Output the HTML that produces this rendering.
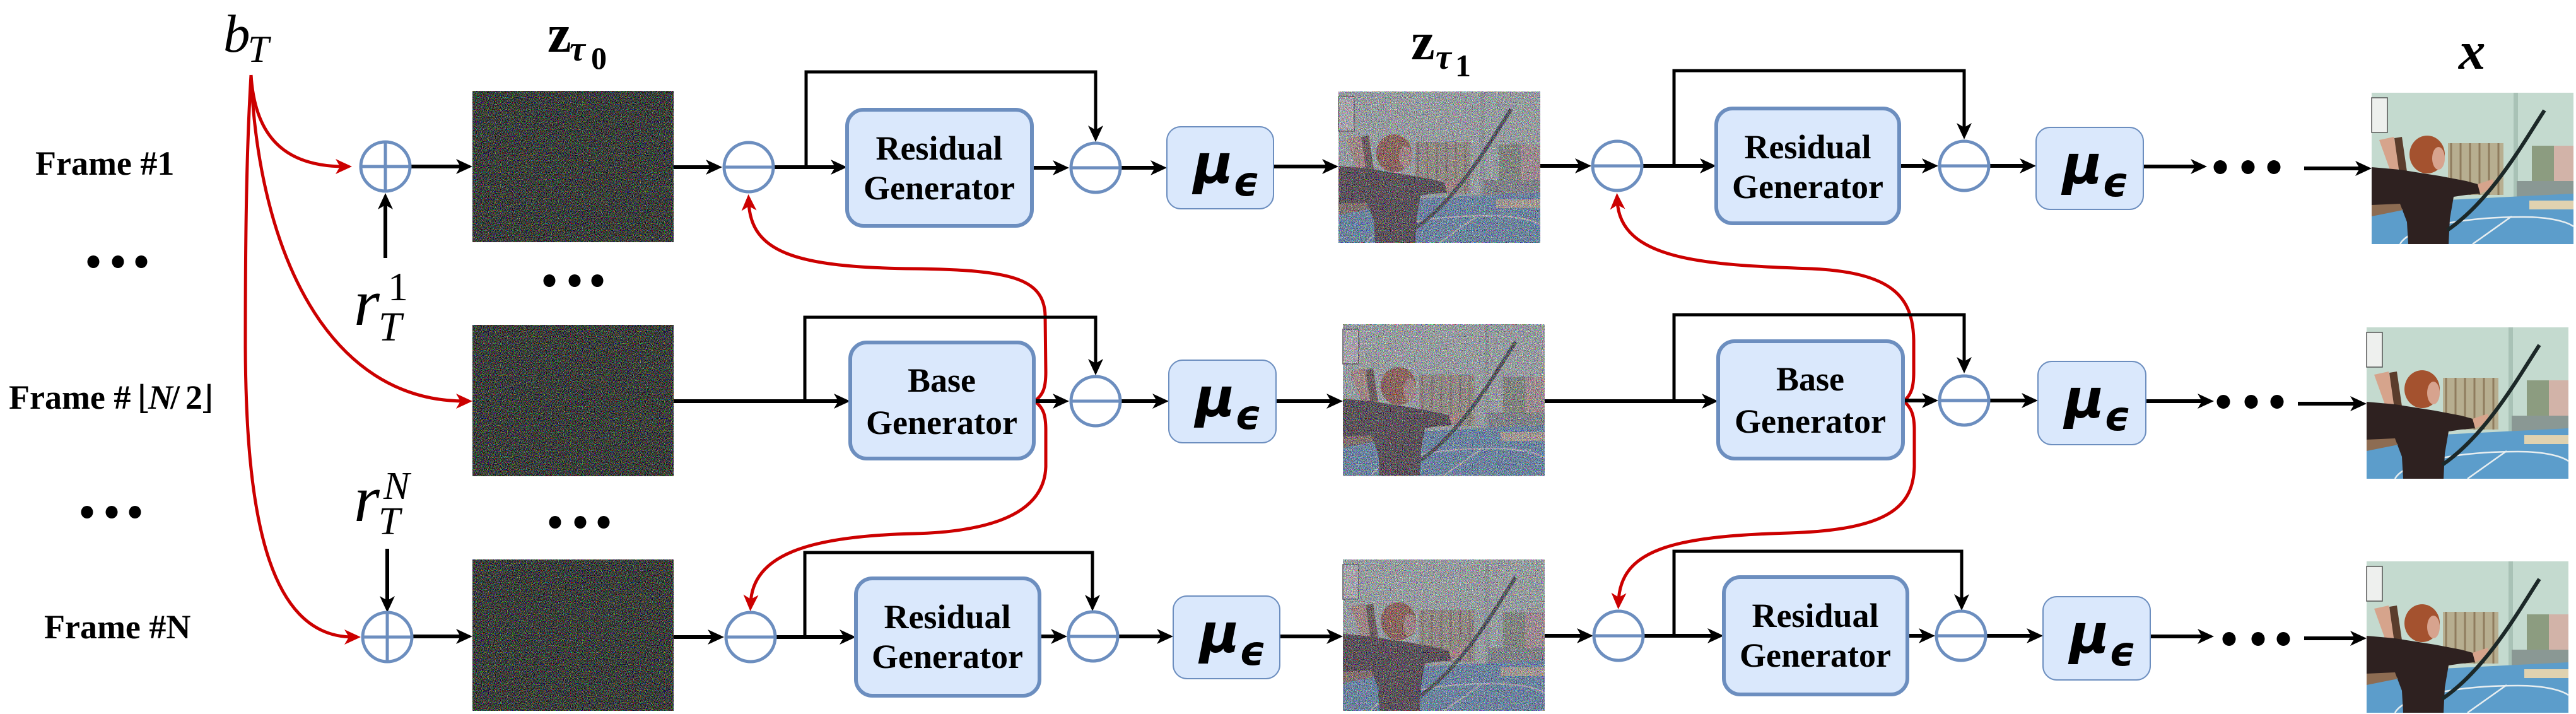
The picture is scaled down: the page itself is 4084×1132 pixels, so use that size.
<!DOCTYPE html>
<html>
<head>
<meta charset="utf-8">
<style>
html,body{margin:0;padding:0;background:#fff;}
svg{display:block;}
</style>
</head>
<body>
<svg width="4084" height="1132" viewBox="0 0 4084 1132" xmlns="http://www.w3.org/2000/svg">
<defs>
  <marker id="ah" markerUnits="userSpaceOnUse" markerWidth="26" markerHeight="24" refX="14" refY="12" orient="auto" viewBox="0 0 26 24">
    <path d="M0,0 L26,12 L0,24 L7,12 Z" fill="#000"/>
  </marker>
  <marker id="ahr" markerUnits="userSpaceOnUse" markerWidth="26" markerHeight="24" refX="14" refY="12" orient="auto" viewBox="0 0 26 24">
    <path d="M0,0 L26,12 L0,24 L7,12 Z" fill="#cc0000"/>
  </marker>
  <filter id="nA" x="0" y="0" width="1" height="1" filterUnits="objectBoundingBox" color-interpolation-filters="sRGB">
    <feTurbulence type="fractalNoise" baseFrequency="0.9" numOctaves="1" seed="5"/>
    <feColorMatrix type="matrix" values="7.5 0 0 0 -3.55  0 7.5 0 0 -3.5  0 0 7.5 0 -3.55  0 0 0 0 1"/>
    <feComponentTransfer>
      <feFuncR type="linear" slope="0.65" intercept="0"/>
      <feFuncG type="linear" slope="0.65" intercept="0"/>
      <feFuncB type="linear" slope="0.65" intercept="0"/>
    </feComponentTransfer>
  </filter>
  <filter id="nB" x="0" y="0" width="1" height="1" filterUnits="objectBoundingBox" color-interpolation-filters="sRGB">
    <feTurbulence type="fractalNoise" baseFrequency="0.9" numOctaves="1" seed="11"/>
    <feColorMatrix type="matrix" values="7.5 0 0 0 -3.3  0 7.5 0 0 -3.35  0 0 7.5 0 -3.25  0 0 0 0 1"/>
  </filter>
  <g id="scene">
    <rect width="320" height="240" fill="#c4dacf"/>
    <rect x="225" y="0" width="7" height="165" fill="#a9c2b6"/>
    <rect x="0" y="8" width="25" height="55" fill="#eef0ee" stroke="#555" stroke-width="1.5"/>
    <rect x="121" y="80" width="88" height="82" fill="#b7ae90"/>
    <path d="M126,80V162 M141,80V162 M156,80V162 M171,80V162 M186,80V162 M201,80V162" stroke="#8f7c5e" stroke-width="3"/>
    <rect x="254" y="84" width="36" height="66" fill="#8c9c80"/>
    <rect x="289" y="84" width="31" height="66" fill="#d2b3a8"/>
    <rect x="230" y="140" width="90" height="25" fill="#8a9894"/>
    <rect x="0" y="164" width="48" height="34" fill="#8d6c52"/>
    <path d="M0,196 L60,184 L120,170 L320,160 L320,240 L0,240Z" fill="#5c9dcb"/>
    <rect x="250" y="171" width="70" height="14" fill="#e0d2b0"/>
    <path d="M45,240 C60,212 150,197 240,197 C285,197 310,205 320,212" stroke="#e8eef0" stroke-width="2.5" fill="none"/>
    <path d="M222,196 L160,240" stroke="#e8eef0" stroke-width="2.5"/>
    <path d="M12,75 L35,70 L46,120 L30,125 Z" fill="#d6a48c"/>
    <path d="M36,72 L48,70 L56,125 L44,128Z" fill="#5b3d2c"/>
    <path d="M0,118 L45,122 L70,126 L108,132 L150,140 L172,146 L172,160 L150,162 L130,165 L124,200 L122,240 L58,240 L56,205 L45,176 L0,178Z" fill="#2e2120"/>
    <path d="M168,145 L192,137 L196,150 L172,160Z" fill="#d6a48c"/>
    <ellipse cx="88" cy="98" rx="28" ry="30" fill="#a4522f"/>
    <ellipse cx="106" cy="104" rx="10" ry="18" fill="#d7a38e"/>
    <path d="M274,28 C240,80 190,170 120,218" stroke="#1c2828" stroke-width="6" fill="none"/>
  </g>
</defs>

<!-- ============ IMAGES ============ -->
<rect x="749" y="144" width="319" height="240" fill="#444" filter="url(#nA)"/>
<rect x="749" y="515" width="319" height="240" fill="#444" filter="url(#nA)"/>
<rect x="749" y="887" width="319" height="240" fill="#444" filter="url(#nA)"/>

<use href="#scene" transform="translate(2122,145)"/>
<rect x="2122" y="145" width="320" height="240" fill="#777" filter="url(#nB)" opacity="0.62"/>
<use href="#scene" transform="translate(2129,514)"/>
<rect x="2129" y="514" width="320" height="241" fill="#777" filter="url(#nB)" opacity="0.62"/>
<use href="#scene" transform="translate(2129,887)"/>
<rect x="2129" y="887" width="320" height="240" fill="#777" filter="url(#nB)" opacity="0.62"/>

<use href="#scene" transform="translate(3760,147)"/>
<use href="#scene" transform="translate(3752,519)"/>
<use href="#scene" transform="translate(3752,890)"/>

<!-- ============ RED CURVES ============ -->
<g fill="none" stroke="#cc0000" stroke-width="5" marker-end="url(#ahr)">
  <path d="M398,119 C404,215 450,264 546,264"/>
  <path d="M398,119 C410,400 520,636 737,636"/>
  <path d="M398,119 C390,250 389,400 389,550 C390,800 420,1010 560,1010"/>
  <path d="M1640,636 C1655,626 1658,612 1658,590 L1657,500 C1655,440 1600,428 1450,426 C1260,424 1190,400 1187,320"/>
  <path d="M1640,636 C1655,646 1658,660 1658,682 L1658,740 C1656,800 1600,842 1450,846 C1280,850 1193,880 1190,957"/>
  <path d="M3018,636 C3031,626 3034,612 3034,590 L3034,540 C3033,470 3000,432 2872,426 C2700,420 2568,412 2564,318"/>
  <path d="M3018,636 C3031,646 3035,660 3035,682 L3035,740 C3033,800 3000,840 2837,845 C2650,850 2569,872 2566,954"/>
</g>

<!-- ============ BLACK ARROWS ============ -->
<g stroke="#000" stroke-width="6" fill="none" marker-end="url(#ah)">
  <line x1="611" y1="409" x2="611" y2="318"/>
  <line x1="650" y1="264" x2="737" y2="264"/>
  <line x1="1068" y1="265" x2="1133" y2="265"/>
  <line x1="1226" y1="265" x2="1331" y2="265"/>
  <line x1="1636" y1="266" x2="1683" y2="266"/>
  <line x1="1776" y1="266" x2="1838" y2="266"/>
  <line x1="2019" y1="264" x2="2110" y2="264"/>
  <line x1="2442" y1="263" x2="2511" y2="263"/>
  <line x1="2603" y1="263" x2="2709" y2="263"/>
  <line x1="3011" y1="263" x2="3061" y2="263"/>
  <line x1="3153" y1="263" x2="3216" y2="263"/>
  <line x1="3398" y1="264" x2="3487" y2="264"/>
  <line x1="3653" y1="267" x2="3748" y2="267"/>
  <line x1="1068" y1="636" x2="1336" y2="636"/>
  <line x1="1640" y1="636" x2="1683" y2="636"/>
  <line x1="1776" y1="636" x2="1841" y2="636"/>
  <line x1="2023" y1="636" x2="2117" y2="636"/>
  <line x1="2449" y1="636" x2="2712" y2="636"/>
  <line x1="3017" y1="635" x2="3061" y2="635"/>
  <line x1="3153" y1="635" x2="3219" y2="635"/>
  <line x1="3402" y1="636" x2="3498" y2="636"/>
  <line x1="3643" y1="640" x2="3740" y2="640"/>
  <line x1="614" y1="870" x2="614" y2="959"/>
  <line x1="653" y1="1009" x2="737" y2="1009"/>
  <line x1="1068" y1="1010" x2="1136" y2="1010"/>
  <line x1="1229" y1="1010" x2="1345" y2="1010"/>
  <line x1="1648" y1="1009" x2="1680" y2="1009"/>
  <line x1="1772" y1="1009" x2="1848" y2="1009"/>
  <line x1="2029" y1="1009" x2="2117" y2="1009"/>
  <line x1="2449" y1="1008" x2="2514" y2="1008"/>
  <line x1="2605" y1="1008" x2="2721" y2="1008"/>
  <line x1="3024" y1="1008" x2="3056" y2="1008"/>
  <line x1="3148" y1="1008" x2="3227" y2="1008"/>
  <line x1="3409" y1="1009" x2="3498" y2="1009"/>
  <line x1="3653" y1="1012" x2="3740" y2="1012"/>
</g>
<g stroke="#000" stroke-width="5" fill="none" marker-end="url(#ah)">
  <path d="M1278,265 V114 H1737 V213"/>
  <path d="M2654,263 V112 H3114 V209"/>
  <path d="M1276,636 V503 H1737 V583"/>
  <path d="M2654,636 V499 H3114 V580"/>
  <path d="M1276,1010 V876 H1732 V957"/>
  <path d="M2654,1008 V874 H3110 V956"/>
</g>

<!-- ============ CIRCLES ============ -->
<g fill="#fff" stroke="#6c8ebf" stroke-width="5">
  <circle cx="611" cy="264" r="39"/>
  <circle cx="614" cy="1010" r="39"/>
  <circle cx="1187" cy="265" r="39"/>
  <circle cx="1737" cy="266" r="39"/>
  <circle cx="2564" cy="263" r="39"/>
  <circle cx="3114" cy="263" r="39"/>
  <circle cx="1737" cy="636" r="39"/>
  <circle cx="3114" cy="635" r="39"/>
  <circle cx="1190" cy="1010" r="39"/>
  <circle cx="1733" cy="1009" r="39"/>
  <circle cx="2566" cy="1008" r="39"/>
  <circle cx="3109" cy="1008" r="39"/>
</g>
<g stroke="#6c8ebf" stroke-width="5" fill="none">
  <path d="M572,264 H650 M611,225 V303"/>
  <path d="M575,1010 H653 M614,971 V1049"/>
  <path d="M1148,265 H1226"/>
  <path d="M1698,266 H1776"/>
  <path d="M2525,263 H2603"/>
  <path d="M3075,263 H3153"/>
  <path d="M1698,636 H1776"/>
  <path d="M3075,635 H3153"/>
  <path d="M1151,1010 H1229"/>
  <path d="M1694,1009 H1772"/>
  <path d="M2527,1008 H2605"/>
  <path d="M3070,1008 H3148"/>
</g>

<!-- ============ GENERATOR BOXES ============ -->
<g fill="#dae8fc" stroke="#6c8ebf" stroke-width="6">
  <rect x="1343" y="174" width="293" height="184" rx="26"/>
  <rect x="2721" y="172" width="290" height="182" rx="26"/>
  <rect x="1348" y="543" width="291" height="184" rx="26"/>
  <rect x="2724" y="541" width="293" height="186" rx="26"/>
  <rect x="1357" y="917" width="291" height="186" rx="26"/>
  <rect x="2733" y="915" width="291" height="186" rx="26"/>
</g>
<g font-family="'Liberation Serif', serif" font-weight="bold" font-size="54" text-anchor="middle" fill="#000">
  <text x="1489" y="253">Residual</text><text x="1489" y="316">Generator</text>
  <text x="2866" y="251">Residual</text><text x="2866" y="314">Generator</text>
  <text x="1493" y="621">Base</text><text x="1493" y="688">Generator</text>
  <text x="2870" y="619">Base</text><text x="2870" y="686">Generator</text>
  <text x="1502" y="996">Residual</text><text x="1502" y="1059">Generator</text>
  <text x="2878" y="994">Residual</text><text x="2878" y="1057">Generator</text>
</g>

<!-- ============ MU BOXES ============ -->
<g fill="#dae8fc" stroke="#6c8ebf" stroke-width="2">
  <rect x="1850" y="201" width="169" height="130" rx="22"/>
  <rect x="3228" y="202" width="170" height="130" rx="22"/>
  <rect x="1853" y="571" width="170" height="131" rx="22"/>
  <rect x="3231" y="573" width="171" height="132" rx="22"/>
  <rect x="1860" y="945" width="169" height="131" rx="22"/>
  <rect x="3239" y="946" width="170" height="132" rx="22"/>
</g>
<g font-family="'DejaVu Sans', sans-serif" font-weight="bold" font-style="italic" fill="#000">
  <text x="1892" y="290" font-size="86">μ</text><text x="1955" y="310" font-size="64">ϵ</text>
  <text x="3270" y="291" font-size="86">μ</text><text x="3333" y="311" font-size="64">ϵ</text>
  <text x="1895" y="660" font-size="86">μ</text><text x="1958" y="680" font-size="64">ϵ</text>
  <text x="3273" y="662" font-size="86">μ</text><text x="3336" y="682" font-size="64">ϵ</text>
  <text x="1902" y="1034" font-size="86">μ</text><text x="1965" y="1054" font-size="64">ϵ</text>
  <text x="3281" y="1035" font-size="86">μ</text><text x="3344" y="1055" font-size="64">ϵ</text>
</g>

<!-- ============ DOTS ============ -->
<g fill="#000">
  <ellipse cx="148" cy="415" rx="9.5" ry="10"/><ellipse cx="187" cy="415" rx="9.5" ry="10"/><ellipse cx="224" cy="415" rx="9.5" ry="10"/>
  <ellipse cx="138" cy="812" rx="9.5" ry="10"/><ellipse cx="177" cy="812" rx="9.5" ry="10"/><ellipse cx="214" cy="812" rx="9.5" ry="10"/>
  <ellipse cx="871" cy="445" rx="9.5" ry="10"/><ellipse cx="911" cy="445" rx="9.5" ry="10"/><ellipse cx="947" cy="445" rx="9.5" ry="10"/>
  <ellipse cx="880" cy="828" rx="9.5" ry="10"/><ellipse cx="920" cy="828" rx="9.5" ry="10"/><ellipse cx="957" cy="828" rx="9.5" ry="10"/>
  <ellipse cx="3520" cy="265" rx="10.5" ry="11"/><ellipse cx="3564" cy="265" rx="10.5" ry="11"/><ellipse cx="3605" cy="265" rx="10.5" ry="11"/>
  <ellipse cx="3525" cy="637" rx="10.5" ry="11"/><ellipse cx="3569" cy="637" rx="10.5" ry="11"/><ellipse cx="3610" cy="637" rx="10.5" ry="11"/>
  <ellipse cx="3534" cy="1013" rx="10.5" ry="11"/><ellipse cx="3580" cy="1013" rx="10.5" ry="11"/><ellipse cx="3620" cy="1013" rx="10.5" ry="11"/>
</g>

<!-- ============ LABELS ============ -->
<g font-family="'Liberation Serif', serif" font-weight="bold" font-size="54" fill="#000">
  <text x="56" y="277">Frame #1</text>
  <text x="14" y="648">Frame #</text>
  <text x="218" y="648" font-family="'DejaVu Serif', serif" font-weight="normal" font-size="52">⌊</text>
  <text x="235" y="648" font-style="italic">N</text>
  <text x="270" y="648">/</text>
  <text x="294" y="648">2</text>
  <text x="318" y="648" font-family="'DejaVu Serif', serif" font-weight="normal" font-size="52">⌋</text>
  <text x="70" y="1012">Frame #N</text>
</g>

<g font-family="'Liberation Serif', serif" fill="#000">
  <text x="354" y="82" font-style="italic" font-size="85">b</text>
  <text x="393" y="98" font-style="italic" font-size="60">T</text>
  <text x="868" y="82" font-weight="bold" font-size="85">z</text>
  <text x="903" y="96" font-weight="bold" font-style="italic" font-size="56">τ</text>
  <text x="937" y="109" font-weight="bold" font-size="50">0</text>
  <text x="2237" y="94" font-weight="bold" font-size="85">z</text>
  <text x="2276" y="109" font-weight="bold" font-style="italic" font-size="56">τ</text>
  <text x="2307" y="121" font-weight="bold" font-size="50">1</text>
  <text x="3898" y="109" font-weight="bold" font-style="italic" font-size="85">x</text>
  <text x="561" y="515" font-style="italic" font-size="105">r</text>
  <text x="615" y="476" font-size="64">1</text>
  <text x="600" y="540" font-style="italic" font-size="66">T</text>
  <text x="561" y="826" font-style="italic" font-size="105">r</text>
  <text x="608" y="791" font-style="italic" font-size="62">N</text>
  <text x="600" y="847" font-style="italic" font-size="62">T</text>
</g>
</svg>
</body>
</html>
